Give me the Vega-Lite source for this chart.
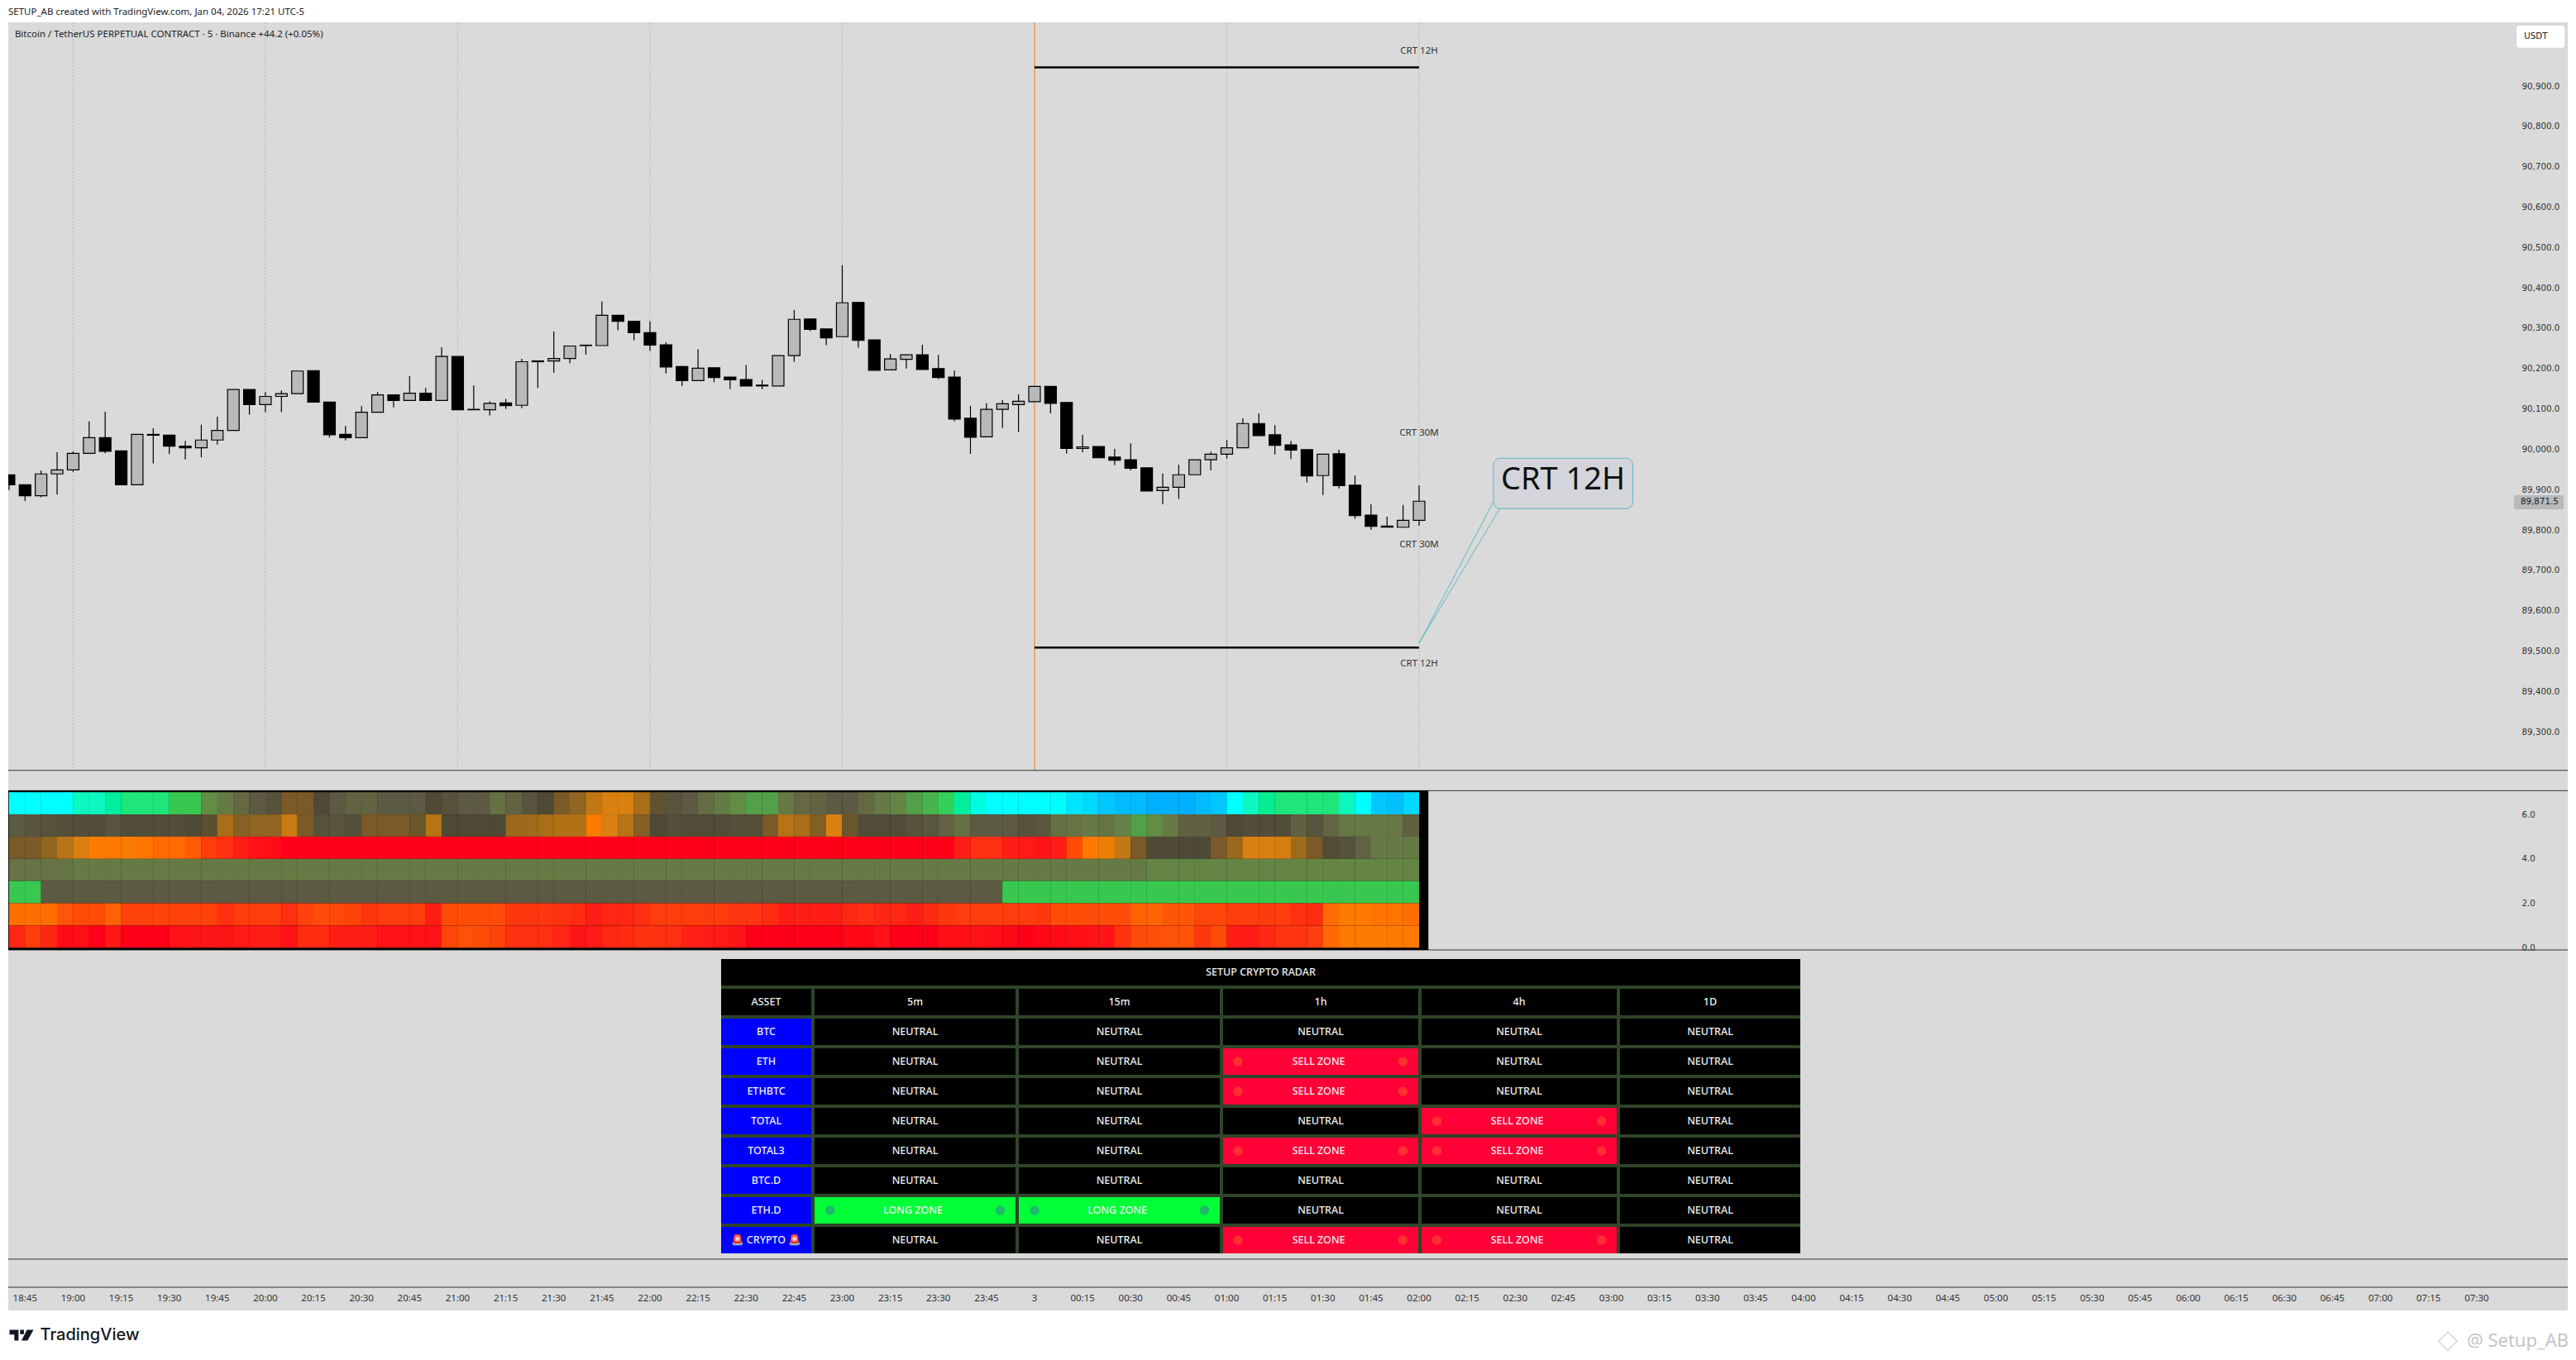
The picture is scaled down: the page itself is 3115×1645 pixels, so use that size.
{"$schema":"https://vega.github.io/schema/vega-lite/v6.json","width":3115,"height":1645,"autosize":{"type":"none"},"padding":0,"background":"#ffffff","config":{"view":{"stroke":null},"axisX":{"disable":true}},
"datasets":{
"candles":[
{"time":"2026-01-02T18:40","open":89937,"high":89937,"low":89899,"close":89912},{"time":"2026-01-02T18:45","open":89912,"high":89912,"low":89872,"close":89885},{"time":"2026-01-02T18:50","open":89885,"high":89947,"low":89881,"close":89939},{"time":"2026-01-02T18:55","open":89939,"high":89993,"low":89888,"close":89949},
{"time":"2026-01-02T19:00","open":89949,"high":89995,"low":89944,"close":89990},{"time":"2026-01-02T19:05","open":89990,"high":90069,"low":89990,"close":90029},{"time":"2026-01-02T19:10","open":90029,"high":90093,"low":89990,"close":89995},{"time":"2026-01-02T19:15","open":89996,"high":89996,"low":89912,"close":89912},{"time":"2026-01-02T19:20","open":89912,"high":90037,"low":89912,"close":90037},{"time":"2026-01-02T19:25","open":90037,"high":90052,"low":89965,"close":90035},{"time":"2026-01-02T19:30","open":90035,"high":90035,"low":89988,"close":90008},{"time":"2026-01-02T19:35","open":90008,"high":90021,"low":89975,"close":90004},{"time":"2026-01-02T19:40","open":90004,"high":90061,"low":89980,"close":90023},{"time":"2026-01-02T19:45","open":90023,"high":90081,"low":90012,"close":90047},{"time":"2026-01-02T19:50","open":90047,"high":90148,"low":90047,"close":90148},{"time":"2026-01-02T19:55","open":90148,"high":90148,"low":90086,"close":90111},
{"time":"2026-01-02T20:00","open":90111,"high":90142,"low":90092,"close":90131},{"time":"2026-01-02T20:05","open":90131,"high":90146,"low":90092,"close":90138},{"time":"2026-01-02T20:10","open":90138,"high":90194,"low":90138,"close":90194},{"time":"2026-01-02T20:15","open":90195,"high":90195,"low":90117,"close":90117},{"time":"2026-01-02T20:20","open":90117,"high":90117,"low":90029,"close":90036},{"time":"2026-01-02T20:25","open":90037,"high":90058,"low":90022,"close":90029},{"time":"2026-01-02T20:30","open":90029,"high":90107,"low":90029,"close":90092},{"time":"2026-01-02T20:35","open":90092,"high":90142,"low":90092,"close":90135},{"time":"2026-01-02T20:40","open":90135,"high":90135,"low":90104,"close":90121},{"time":"2026-01-02T20:45","open":90121,"high":90181,"low":90121,"close":90139},{"time":"2026-01-02T20:50","open":90139,"high":90152,"low":90121,"close":90121},{"time":"2026-01-02T20:55","open":90121,"high":90253,"low":90121,"close":90230},
{"time":"2026-01-02T21:00","open":90230,"high":90230,"low":90098,"close":90098},{"time":"2026-01-02T21:05","open":90099,"high":90158,"low":90098,"close":90098},{"time":"2026-01-02T21:10","open":90098,"high":90119,"low":90084,"close":90114},{"time":"2026-01-02T21:15","open":90115,"high":90125,"low":90100,"close":90108},{"time":"2026-01-02T21:20","open":90109,"high":90224,"low":90102,"close":90217},{"time":"2026-01-02T21:25","open":90219,"high":90219,"low":90152,"close":90217},{"time":"2026-01-02T21:30","open":90219,"high":90292,"low":90190,"close":90225},{"time":"2026-01-02T21:35","open":90225,"high":90256,"low":90213,"close":90256},{"time":"2026-01-02T21:40","open":90258,"high":90258,"low":90235,"close":90257},{"time":"2026-01-02T21:45","open":90257,"high":90366,"low":90257,"close":90332},{"time":"2026-01-02T21:50","open":90332,"high":90332,"low":90295,"close":90317},{"time":"2026-01-02T21:55","open":90317,"high":90317,"low":90270,"close":90289},
{"time":"2026-01-02T22:00","open":90289,"high":90317,"low":90244,"close":90258},{"time":"2026-01-02T22:05","open":90259,"high":90265,"low":90188,"close":90204},{"time":"2026-01-02T22:10","open":90205,"high":90207,"low":90157,"close":90170},{"time":"2026-01-02T22:15","open":90170,"high":90248,"low":90170,"close":90201},{"time":"2026-01-02T22:20","open":90202,"high":90202,"low":90166,"close":90178},{"time":"2026-01-02T22:25","open":90179,"high":90179,"low":90149,"close":90172},{"time":"2026-01-02T22:30","open":90173,"high":90209,"low":90157,"close":90157},{"time":"2026-01-02T22:35","open":90159,"high":90172,"low":90149,"close":90157},{"time":"2026-01-02T22:40","open":90157,"high":90232,"low":90157,"close":90232},{"time":"2026-01-02T22:45","open":90232,"high":90345,"low":90217,"close":90322},{"time":"2026-01-02T22:50","open":90323,"high":90323,"low":90293,"close":90297},{"time":"2026-01-02T22:55","open":90298,"high":90298,"low":90258,"close":90276},
{"time":"2026-01-02T23:00","open":90279,"high":90456,"low":90279,"close":90363},{"time":"2026-01-02T23:05","open":90364,"high":90364,"low":90252,"close":90270},{"time":"2026-01-02T23:10","open":90271,"high":90271,"low":90196,"close":90196},{"time":"2026-01-02T23:15","open":90197,"high":90236,"low":90197,"close":90224},{"time":"2026-01-02T23:20","open":90223,"high":90234,"low":90200,"close":90234},{"time":"2026-01-02T23:25","open":90234,"high":90259,"low":90198,"close":90198},{"time":"2026-01-02T23:30","open":90200,"high":90234,"low":90174,"close":90178},{"time":"2026-01-02T23:35","open":90179,"high":90195,"low":90069,"close":90075},{"time":"2026-01-02T23:40","open":90077,"high":90108,"low":89989,"close":90030},{"time":"2026-01-02T23:45","open":90031,"high":90114,"low":90031,"close":90099},{"time":"2026-01-02T23:50","open":90099,"high":90122,"low":90053,"close":90113},{"time":"2026-01-02T23:55","open":90111,"high":90136,"low":90043,"close":90119},
{"time":"2026-01-03T00:00","open":90118,"high":90156,"low":90118,"close":90156},{"time":"2026-01-03T00:05","open":90156,"high":90156,"low":90089,"close":90114},{"time":"2026-01-03T00:10","open":90116,"high":90116,"low":89989,"close":90002},{"time":"2026-01-03T00:15","open":90002,"high":90036,"low":89993,"close":90006},{"time":"2026-01-03T00:20","open":90007,"high":90007,"low":89979,"close":89979},{"time":"2026-01-03T00:25","open":89981,"high":90001,"low":89961,"close":89973},{"time":"2026-01-03T00:30","open":89974,"high":90015,"low":89948,"close":89953},{"time":"2026-01-03T00:35","open":89954,"high":89954,"low":89897,"close":89897},{"time":"2026-01-03T00:40","open":89898,"high":89940,"low":89864,"close":89906},{"time":"2026-01-03T00:45","open":89906,"high":89962,"low":89877,"close":89937},{"time":"2026-01-03T00:50","open":89937,"high":89974,"low":89937,"close":89974},{"time":"2026-01-03T00:55","open":89974,"high":89994,"low":89948,"close":89988},
{"time":"2026-01-03T01:00","open":89988,"high":90023,"low":89977,"close":90004},{"time":"2026-01-03T01:05","open":90004,"high":90077,"low":90004,"close":90064},{"time":"2026-01-03T01:10","open":90064,"high":90089,"low":90034,"close":90034},{"time":"2026-01-03T01:15","open":90036,"high":90060,"low":89987,"close":90010},{"time":"2026-01-03T01:20","open":90011,"high":90021,"low":89976,"close":89998},{"time":"2026-01-03T01:25","open":89999,"high":89999,"low":89918,"close":89934},{"time":"2026-01-03T01:30","open":89935,"high":89988,"low":89887,"close":89988},{"time":"2026-01-03T01:35","open":89989,"high":89999,"low":89903,"close":89910},{"time":"2026-01-03T01:40","open":89911,"high":89935,"low":89828,"close":89836},{"time":"2026-01-03T01:45","open":89837,"high":89864,"low":89801,"close":89809},{"time":"2026-01-03T01:50","open":89810,"high":89833,"low":89807,"close":89807},{"time":"2026-01-03T01:55","open":89807,"high":89862,"low":89807,"close":89824},
{"time":"2026-01-03T02:00","open":89824,"high":89911,"low":89811,"close":89871.5}],
"heat":[
{"time":"2026-01-02T18:40","r1":15,"r2":9,"r3":7,"r4":9.8,"r5":12,"r6":3.6,"r7":1.2},{"time":"2026-01-02T18:45","r1":15,"r2":8.7,"r3":7,"r4":9.8,"r5":12,"r6":3.6,"r7":2},{"time":"2026-01-02T18:50","r1":15,"r2":8.5,"r3":6.5,"r4":9.8,"r5":9,"r6":3.6,"r7":1.2},{"time":"2026-01-02T18:55","r1":15,"r2":8.3,"r3":5.7,"r4":9.8,"r5":9,"r6":2.8,"r7":0.3},
{"time":"2026-01-02T19:00","r1":14,"r2":8.2,"r3":5,"r4":10,"r5":9,"r6":2.5,"r7":0.4},{"time":"2026-01-02T19:05","r1":14,"r2":8.2,"r3":4,"r4":10,"r5":9,"r6":2.5,"r7":0},{"time":"2026-01-02T19:10","r1":13.5,"r2":8.7,"r3":4,"r4":10,"r5":9,"r6":3.2,"r7":0.7},{"time":"2026-01-02T19:15","r1":13,"r2":8.2,"r3":4.2,"r4":10,"r5":9,"r6":2.2,"r7":0},{"time":"2026-01-02T19:20","r1":13,"r2":8.2,"r3":3.8,"r4":10,"r5":9,"r6":2.2,"r7":0},{"time":"2026-01-02T19:25","r1":13,"r2":8.2,"r3":3.5,"r4":10,"r5":9,"r6":2.2,"r7":0},{"time":"2026-01-02T19:30","r1":12,"r2":8.2,"r3":3.5,"r4":10,"r5":9,"r6":2.2,"r7":0.5},{"time":"2026-01-02T19:35","r1":12,"r2":8,"r3":3,"r4":10,"r5":9,"r6":2.2,"r7":0.6},{"time":"2026-01-02T19:40","r1":10.5,"r2":7.7,"r3":2,"r4":10,"r5":9,"r6":2.2,"r7":0.6},{"time":"2026-01-02T19:45","r1":10,"r2":6,"r3":1.5,"r4":10,"r5":9,"r6":1.5,"r7":0.6},{"time":"2026-01-02T19:50","r1":9.5,"r2":6.7,"r3":1,"r4":10,"r5":9,"r6":2,"r7":0.8},{"time":"2026-01-02T19:55","r1":9,"r2":6.5,"r3":0.5,"r4":10,"r5":9,"r6":2,"r7":1},
{"time":"2026-01-02T20:00","r1":8.5,"r2":6.5,"r3":0.3,"r4":10,"r5":9,"r6":2,"r7":1},{"time":"2026-01-02T20:05","r1":7,"r2":5.3,"r3":0,"r4":10,"r5":9,"r6":1.5,"r7":0.6},{"time":"2026-01-02T20:10","r1":7,"r2":7,"r3":0,"r4":10,"r5":9,"r6":2.2,"r7":1.4},{"time":"2026-01-02T20:15","r1":8,"r2":8.5,"r3":0,"r4":10,"r5":9,"r6":2.5,"r7":1.4},{"time":"2026-01-02T20:20","r1":9,"r2":8.7,"r3":0,"r4":10,"r5":9,"r6":2.4,"r7":1},{"time":"2026-01-02T20:25","r1":9.3,"r2":8.3,"r3":0,"r4":10,"r5":9,"r6":2.2,"r7":1},{"time":"2026-01-02T20:30","r1":9.3,"r2":7,"r3":0,"r4":10,"r5":9,"r6":1.8,"r7":1},{"time":"2026-01-02T20:35","r1":9,"r2":7,"r3":0,"r4":10,"r5":9,"r6":2,"r7":0.5},{"time":"2026-01-02T20:40","r1":9,"r2":7,"r3":0,"r4":10,"r5":9,"r6":2,"r7":0.5},{"time":"2026-01-02T20:45","r1":9,"r2":7.3,"r3":0,"r4":10,"r5":9,"r6":2,"r7":0.5},{"time":"2026-01-02T20:50","r1":8,"r2":5.7,"r3":0,"r4":10,"r5":9,"r6":1,"r7":0.5},{"time":"2026-01-02T20:55","r1":8.5,"r2":8,"r3":0,"r4":10,"r5":9,"r6":2.5,"r7":2.3},
{"time":"2026-01-02T21:00","r1":9,"r2":8,"r3":0,"r4":10,"r5":9,"r6":2.5,"r7":2.7},{"time":"2026-01-02T21:05","r1":9,"r2":8,"r3":0,"r4":10,"r5":9,"r6":2.5,"r7":2.5},{"time":"2026-01-02T21:10","r1":9.7,"r2":8,"r3":0,"r4":10,"r5":9,"r6":2.5,"r7":2.2},{"time":"2026-01-02T21:15","r1":9.3,"r2":6.3,"r3":0,"r4":10,"r5":9,"r6":1.8,"r7":1.5},{"time":"2026-01-02T21:20","r1":8.7,"r2":6.2,"r3":0,"r4":10,"r5":9,"r6":1.8,"r7":1.5},{"time":"2026-01-02T21:25","r1":8,"r2":6,"r3":0,"r4":10,"r5":9,"r6":1.8,"r7":1.5},{"time":"2026-01-02T21:30","r1":7,"r2":5.8,"r3":0,"r4":10,"r5":9,"r6":1.6,"r7":1.2},{"time":"2026-01-02T21:35","r1":6.5,"r2":5.8,"r3":0,"r4":10,"r5":9,"r6":1.4,"r7":0.6},{"time":"2026-01-02T21:40","r1":5.5,"r2":4.2,"r3":0,"r4":10,"r5":9,"r6":1,"r7":0.8},{"time":"2026-01-02T21:45","r1":5,"r2":5,"r3":0,"r4":10,"r5":9,"r6":1.2,"r7":1.2},{"time":"2026-01-02T21:50","r1":5,"r2":5.7,"r3":0,"r4":10,"r5":9,"r6":1.2,"r7":1.4},{"time":"2026-01-02T21:55","r1":6,"r2":6.8,"r3":0,"r4":10,"r5":9,"r6":1.5,"r7":1.6},
{"time":"2026-01-02T22:00","r1":7.5,"r2":8,"r3":0,"r4":10,"r5":9,"r6":2,"r7":1.5},{"time":"2026-01-02T22:05","r1":8.7,"r2":8.4,"r3":0,"r4":10,"r5":9,"r6":2,"r7":1.5},{"time":"2026-01-02T22:10","r1":9,"r2":8.2,"r3":0,"r4":10,"r5":9,"r6":2,"r7":1.1},{"time":"2026-01-02T22:15","r1":9.6,"r2":8.2,"r3":0,"r4":10,"r5":9,"r6":2,"r7":1},{"time":"2026-01-02T22:20","r1":10,"r2":8.2,"r3":0,"r4":10,"r5":9,"r6":2,"r7":0.8},{"time":"2026-01-02T22:25","r1":10.5,"r2":8.3,"r3":0,"r4":10,"r5":9,"r6":1.7,"r7":0.6},{"time":"2026-01-02T22:30","r1":11,"r2":8.3,"r3":0,"r4":10,"r5":9,"r6":1.7,"r7":0},{"time":"2026-01-02T22:35","r1":11,"r2":7,"r3":0,"r4":10,"r5":9,"r6":1.4,"r7":0},{"time":"2026-01-02T22:40","r1":10,"r2":5.7,"r3":0,"r4":10,"r5":9,"r6":1,"r7":0},{"time":"2026-01-02T22:45","r1":9.5,"r2":6,"r3":0,"r4":10,"r5":9,"r6":1,"r7":0},{"time":"2026-01-02T22:50","r1":9.3,"r2":6.8,"r3":0,"r4":10,"r5":9,"r6":1,"r7":0},{"time":"2026-01-02T22:55","r1":9,"r2":5,"r3":0,"r4":10,"r5":9,"r6":0.9,"r7":0},
{"time":"2026-01-02T23:00","r1":9,"r2":7.3,"r3":0,"r4":10,"r5":9,"r6":1.3,"r7":0.2},{"time":"2026-01-02T23:05","r1":9.5,"r2":8.2,"r3":0,"r4":10,"r5":9,"r6":1.5,"r7":0.2},{"time":"2026-01-02T23:10","r1":10,"r2":8.2,"r3":0,"r4":10,"r5":9,"r6":1.2,"r7":0.5},{"time":"2026-01-02T23:15","r1":10.3,"r2":8.2,"r3":0,"r4":10,"r5":9,"r6":1.2,"r7":0},{"time":"2026-01-02T23:20","r1":11,"r2":8.5,"r3":0,"r4":10,"r5":9,"r6":1,"r7":0},{"time":"2026-01-02T23:25","r1":11.5,"r2":8.8,"r3":0,"r4":10,"r5":9,"r6":1.3,"r7":0},{"time":"2026-01-02T23:30","r1":12.3,"r2":9.3,"r3":0,"r4":10,"r5":9,"r6":1.8,"r7":0.4},{"time":"2026-01-02T23:35","r1":13.5,"r2":9.7,"r3":1,"r4":10,"r5":9,"r6":2,"r7":0.4},{"time":"2026-01-02T23:40","r1":14.5,"r2":9,"r3":1.5,"r4":10,"r5":9,"r6":2,"r7":0.5},{"time":"2026-01-02T23:45","r1":15,"r2":9,"r3":1.5,"r4":10,"r5":9,"r6":2,"r7":0.4},{"time":"2026-01-02T23:50","r1":15,"r2":9,"r3":1,"r4":10,"r5":12,"r6":2,"r7":0.2},{"time":"2026-01-02T23:55","r1":15,"r2":8.5,"r3":0.8,"r4":10,"r5":12,"r6":2,"r7":0},
{"time":"2026-01-03T00:00","r1":15,"r2":8.8,"r3":0.5,"r4":10,"r5":12,"r6":1.8,"r7":0.2},{"time":"2026-01-03T00:05","r1":15,"r2":9.7,"r3":1,"r4":10,"r5":12,"r6":2.5,"r7":0.3},{"time":"2026-01-03T00:10","r1":15.5,"r2":9.8,"r3":2.5,"r4":10,"r5":12,"r6":2.5,"r7":0.4},{"time":"2026-01-03T00:15","r1":15.7,"r2":10,"r3":4,"r4":10,"r5":12,"r6":2.5,"r7":0.5},{"time":"2026-01-03T00:20","r1":16,"r2":9.8,"r3":4.5,"r4":10,"r5":12,"r6":2.5,"r7":0.6},{"time":"2026-01-03T00:25","r1":16.5,"r2":10.2,"r3":5.5,"r4":10,"r5":12,"r6":2.5,"r7":1.6},{"time":"2026-01-03T00:30","r1":16.5,"r2":11,"r3":7,"r4":10,"r5":12,"r6":3.3,"r7":2.5},{"time":"2026-01-03T00:35","r1":17,"r2":10.5,"r3":8,"r4":10.3,"r5":12,"r6":3.3,"r7":2.6},{"time":"2026-01-03T00:40","r1":17,"r2":10,"r3":8,"r4":10.3,"r5":12,"r6":2.8,"r7":2.7},{"time":"2026-01-03T00:45","r1":17,"r2":9.2,"r3":8,"r4":10.3,"r5":12,"r6":2.8,"r7":2.7},{"time":"2026-01-03T00:50","r1":16.5,"r2":9.2,"r3":8,"r4":10.3,"r5":12,"r6":2.3,"r7":1.8},{"time":"2026-01-03T00:55","r1":16,"r2":9,"r3":7,"r4":10.3,"r5":12,"r6":2.3,"r7":2.5},
{"time":"2026-01-03T01:00","r1":15,"r2":8,"r3":6.3,"r4":10.3,"r5":12,"r6":2,"r7":1},{"time":"2026-01-03T01:05","r1":14,"r2":8.2,"r3":5,"r4":10.3,"r5":12,"r6":2,"r7":0.9},{"time":"2026-01-03T01:10","r1":13.3,"r2":8.2,"r3":5,"r4":10.3,"r5":12,"r6":2,"r7":1.3},{"time":"2026-01-03T01:15","r1":13,"r2":8.2,"r3":5.1,"r4":10.3,"r5":12,"r6":2,"r7":1.7},{"time":"2026-01-03T01:20","r1":13,"r2":9.2,"r3":6.2,"r4":10.3,"r5":12,"r6":1.5,"r7":1.7},{"time":"2026-01-03T01:25","r1":13,"r2":8.7,"r3":7,"r4":10.3,"r5":12,"r6":1.4,"r7":2},{"time":"2026-01-03T01:30","r1":13,"r2":9.4,"r3":7.9,"r4":10.3,"r5":12,"r6":3.5,"r7":3.4},{"time":"2026-01-03T01:35","r1":14,"r2":9.9,"r3":8.5,"r4":10.3,"r5":12,"r6":4,"r7":4},{"time":"2026-01-03T01:40","r1":15,"r2":10,"r3":9.3,"r4":10.3,"r5":12,"r6":4,"r7":4},{"time":"2026-01-03T01:45","r1":16,"r2":10,"r3":10,"r4":10.3,"r5":12,"r6":3.8,"r7":4},{"time":"2026-01-03T01:50","r1":16.3,"r2":9.9,"r3":10,"r4":10.3,"r5":12,"r6":3.8,"r7":4},{"time":"2026-01-03T01:55","r1":15.7,"r2":9.2,"r3":10,"r4":10.3,"r5":12,"r6":3.6,"r7":4}],
"ticks":[{"time":"2026-01-02T18:45","label":"18:45"},{"time":"2026-01-02T19:00","label":"19:00"},{"time":"2026-01-02T19:15","label":"19:15"},{"time":"2026-01-02T19:30","label":"19:30"},{"time":"2026-01-02T19:45","label":"19:45"},{"time":"2026-01-02T20:00","label":"20:00"},{"time":"2026-01-02T20:15","label":"20:15"},{"time":"2026-01-02T20:30","label":"20:30"},{"time":"2026-01-02T20:45","label":"20:45"},{"time":"2026-01-02T21:00","label":"21:00"},{"time":"2026-01-02T21:15","label":"21:15"},{"time":"2026-01-02T21:30","label":"21:30"},{"time":"2026-01-02T21:45","label":"21:45"},{"time":"2026-01-02T22:00","label":"22:00"},{"time":"2026-01-02T22:15","label":"22:15"},{"time":"2026-01-02T22:30","label":"22:30"},{"time":"2026-01-02T22:45","label":"22:45"},{"time":"2026-01-02T23:00","label":"23:00"},{"time":"2026-01-02T23:15","label":"23:15"},{"time":"2026-01-02T23:30","label":"23:30"},{"time":"2026-01-02T23:45","label":"23:45"},{"time":"2026-01-03T00:00","label":"3"},{"time":"2026-01-03T00:15","label":"00:15"},{"time":"2026-01-03T00:30","label":"00:30"},{"time":"2026-01-03T00:45","label":"00:45"},{"time":"2026-01-03T01:00","label":"01:00"},{"time":"2026-01-03T01:15","label":"01:15"},{"time":"2026-01-03T01:30","label":"01:30"},{"time":"2026-01-03T01:45","label":"01:45"},{"time":"2026-01-03T02:00","label":"02:00"},{"time":"2026-01-03T02:15","label":"02:15"},{"time":"2026-01-03T02:30","label":"02:30"},{"time":"2026-01-03T02:45","label":"02:45"},{"time":"2026-01-03T03:00","label":"03:00"},{"time":"2026-01-03T03:15","label":"03:15"},{"time":"2026-01-03T03:30","label":"03:30"},{"time":"2026-01-03T03:45","label":"03:45"},{"time":"2026-01-03T04:00","label":"04:00"},{"time":"2026-01-03T04:15","label":"04:15"},{"time":"2026-01-03T04:30","label":"04:30"},{"time":"2026-01-03T04:45","label":"04:45"},{"time":"2026-01-03T05:00","label":"05:00"},{"time":"2026-01-03T05:15","label":"05:15"},{"time":"2026-01-03T05:30","label":"05:30"},{"time":"2026-01-03T05:45","label":"05:45"},{"time":"2026-01-03T06:00","label":"06:00"},{"time":"2026-01-03T06:15","label":"06:15"},{"time":"2026-01-03T06:30","label":"06:30"},{"time":"2026-01-03T06:45","label":"06:45"},{"time":"2026-01-03T07:00","label":"07:00"},{"time":"2026-01-03T07:15","label":"07:15"},{"time":"2026-01-03T07:30","label":"07:30"}],
"cells":[
{"row":"TITLE","c":0,"c2":6,"m":3.198,"label":"SETUP CRYPTO RADAR","kind":"NEUTRAL"},
{"row":"ASSET","c":0,"c2":1,"m":0.5,"label":"ASSET","kind":"NEUTRAL"},{"row":"ASSET","c":1,"c2":2,"m":1.5,"label":"5m","kind":"NEUTRAL"},{"row":"ASSET","c":2,"c2":3,"m":2.5,"label":"15m","kind":"NEUTRAL"},{"row":"ASSET","c":3,"c2":4,"m":3.5,"label":"1h","kind":"NEUTRAL"},{"row":"ASSET","c":4,"c2":5,"m":4.5,"label":"4h","kind":"NEUTRAL"},{"row":"ASSET","c":5,"c2":6,"m":5.5,"label":"1D","kind":"NEUTRAL"},
{"row":"BTC","c":0,"c2":1,"m":0.5,"label":"BTC","kind":"ASSET"},{"row":"BTC","c":1,"c2":2,"m":1.5,"label":"NEUTRAL","kind":"NEUTRAL"},{"row":"BTC","c":2,"c2":3,"m":2.5,"label":"NEUTRAL","kind":"NEUTRAL"},{"row":"BTC","c":3,"c2":4,"m":3.5,"label":"NEUTRAL","kind":"NEUTRAL"},{"row":"BTC","c":4,"c2":5,"m":4.5,"label":"NEUTRAL","kind":"NEUTRAL"},{"row":"BTC","c":5,"c2":6,"m":5.5,"label":"NEUTRAL","kind":"NEUTRAL"},
{"row":"ETH","c":0,"c2":1,"m":0.5,"label":"ETH","kind":"ASSET"},{"row":"ETH","c":1,"c2":2,"m":1.5,"label":"NEUTRAL","kind":"NEUTRAL"},{"row":"ETH","c":2,"c2":3,"m":2.5,"label":"NEUTRAL","kind":"NEUTRAL"},{"row":"ETH","c":3,"c2":4,"m":3.49,"label":"SELL ZONE","kind":"SELL"},{"row":"ETH","c":4,"c2":5,"m":4.5,"label":"NEUTRAL","kind":"NEUTRAL"},{"row":"ETH","c":5,"c2":6,"m":5.5,"label":"NEUTRAL","kind":"NEUTRAL"},
{"row":"ETHBTC","c":0,"c2":1,"m":0.5,"label":"ETHBTC","kind":"ASSET"},{"row":"ETHBTC","c":1,"c2":2,"m":1.5,"label":"NEUTRAL","kind":"NEUTRAL"},{"row":"ETHBTC","c":2,"c2":3,"m":2.5,"label":"NEUTRAL","kind":"NEUTRAL"},{"row":"ETHBTC","c":3,"c2":4,"m":3.49,"label":"SELL ZONE","kind":"SELL"},{"row":"ETHBTC","c":4,"c2":5,"m":4.5,"label":"NEUTRAL","kind":"NEUTRAL"},{"row":"ETHBTC","c":5,"c2":6,"m":5.5,"label":"NEUTRAL","kind":"NEUTRAL"},
{"row":"TOTAL","c":0,"c2":1,"m":0.5,"label":"TOTAL","kind":"ASSET"},{"row":"TOTAL","c":1,"c2":2,"m":1.5,"label":"NEUTRAL","kind":"NEUTRAL"},{"row":"TOTAL","c":2,"c2":3,"m":2.5,"label":"NEUTRAL","kind":"NEUTRAL"},{"row":"TOTAL","c":3,"c2":4,"m":3.5,"label":"NEUTRAL","kind":"NEUTRAL"},{"row":"TOTAL","c":4,"c2":5,"m":4.49,"label":"SELL ZONE","kind":"SELL"},{"row":"TOTAL","c":5,"c2":6,"m":5.5,"label":"NEUTRAL","kind":"NEUTRAL"},
{"row":"TOTAL3","c":0,"c2":1,"m":0.5,"label":"TOTAL3","kind":"ASSET"},{"row":"TOTAL3","c":1,"c2":2,"m":1.5,"label":"NEUTRAL","kind":"NEUTRAL"},{"row":"TOTAL3","c":2,"c2":3,"m":2.5,"label":"NEUTRAL","kind":"NEUTRAL"},{"row":"TOTAL3","c":3,"c2":4,"m":3.49,"label":"SELL ZONE","kind":"SELL"},{"row":"TOTAL3","c":4,"c2":5,"m":4.49,"label":"SELL ZONE","kind":"SELL"},{"row":"TOTAL3","c":5,"c2":6,"m":5.5,"label":"NEUTRAL","kind":"NEUTRAL"},
{"row":"BTC.D","c":0,"c2":1,"m":0.5,"label":"BTC.D","kind":"ASSET"},{"row":"BTC.D","c":1,"c2":2,"m":1.5,"label":"NEUTRAL","kind":"NEUTRAL"},{"row":"BTC.D","c":2,"c2":3,"m":2.5,"label":"NEUTRAL","kind":"NEUTRAL"},{"row":"BTC.D","c":3,"c2":4,"m":3.5,"label":"NEUTRAL","kind":"NEUTRAL"},{"row":"BTC.D","c":4,"c2":5,"m":4.5,"label":"NEUTRAL","kind":"NEUTRAL"},{"row":"BTC.D","c":5,"c2":6,"m":5.5,"label":"NEUTRAL","kind":"NEUTRAL"},
{"row":"ETH.D","c":0,"c2":1,"m":0.5,"label":"ETH.D","kind":"ASSET"},{"row":"ETH.D","c":1,"c2":2,"m":1.49,"label":"LONG ZONE","kind":"LONG"},{"row":"ETH.D","c":2,"c2":3,"m":2.49,"label":"LONG ZONE","kind":"LONG"},{"row":"ETH.D","c":3,"c2":4,"m":3.5,"label":"NEUTRAL","kind":"NEUTRAL"},{"row":"ETH.D","c":4,"c2":5,"m":4.5,"label":"NEUTRAL","kind":"NEUTRAL"},{"row":"ETH.D","c":5,"c2":6,"m":5.5,"label":"NEUTRAL","kind":"NEUTRAL"},
{"row":"CRYPTO","c":0,"c2":1,"m":0.5,"label":"🚨 CRYPTO 🚨","kind":"ASSET"},{"row":"CRYPTO","c":1,"c2":2,"m":1.5,"label":"NEUTRAL","kind":"NEUTRAL"},{"row":"CRYPTO","c":2,"c2":3,"m":2.5,"label":"NEUTRAL","kind":"NEUTRAL"},{"row":"CRYPTO","c":3,"c2":4,"m":3.49,"label":"SELL ZONE","kind":"SELL"},{"row":"CRYPTO","c":4,"c2":5,"m":4.49,"label":"SELL ZONE","kind":"SELL"},{"row":"CRYPTO","c":5,"c2":6,"m":5.5,"label":"NEUTRAL","kind":"NEUTRAL"}],
"dots":[
{"row":"ETH","pos":3.083,"kind":"SELLDOT"},{"row":"ETH","pos":3.914,"kind":"SELLDOT"},{"row":"ETHBTC","pos":3.083,"kind":"SELLDOT"},{"row":"ETHBTC","pos":3.914,"kind":"SELLDOT"},{"row":"TOTAL","pos":4.085,"kind":"SELLDOT"},{"row":"TOTAL","pos":4.915,"kind":"SELLDOT"},{"row":"TOTAL3","pos":3.083,"kind":"SELLDOT"},{"row":"TOTAL3","pos":3.914,"kind":"SELLDOT"},{"row":"TOTAL3","pos":4.085,"kind":"SELLDOT"},{"row":"TOTAL3","pos":4.915,"kind":"SELLDOT"},{"row":"CRYPTO","pos":3.083,"kind":"SELLDOT"},{"row":"CRYPTO","pos":3.914,"kind":"SELLDOT"},{"row":"CRYPTO","pos":4.085,"kind":"SELLDOT"},{"row":"CRYPTO","pos":4.915,"kind":"SELLDOT"},{"row":"ETH.D","pos":1.084,"kind":"LONGDOT"},{"row":"ETH.D","pos":1.917,"kind":"LONGDOT"},{"row":"ETH.D","pos":2.085,"kind":"LONGDOT"},{"row":"ETH.D","pos":2.917,"kind":"LONGDOT"}]
},
"layer":[
{"layer":[
{"data":{"values":[{"start":"2026-01-02T18:39:46","end":"2026-01-03T07:58:30","top":91057.7,"bottom":87867}]},"mark":{"type":"rect","fill":"#dadada"},
"encoding":{
"x":{"field":"start","type":"temporal","scale":{"domain":[{"year":2026,"month":1,"date":2,"hours":18,"minutes":37,"seconds":11},{"year":2026,"month":1,"date":3,"hours":8,"minutes":1,"seconds":0}],"nice":false,"padding":0}},
"x2":{"field":"end"},
"y":{"field":"top","type":"quantitative","scale":{"domain":[89000,91000],"range":[1031.8,55.17],"nice":false,"zero":false},
"axis":{"orient":"right","offset":-67,"title":null,"ticks":false,"domain":false,"grid":false,"values":[89300,89400,89500,89600,89700,89800,89900,90000,90100,90200,90300,90400,90500,90600,90700,90800,90900],"format":",.1f","labelPadding":1,"labelFont":"DejaVu Sans","labelFontSize":10.3,"labelColor":"#333333","zindex":1}},
"y2":{"field":"bottom"}}},
{"data":{"values":[{"time":"2026-01-02T19:00","top":91057.7,"bottom":89204.7},{"time":"2026-01-02T20:00","top":91057.7,"bottom":89204.7},{"time":"2026-01-02T21:00","top":91057.7,"bottom":89204.7},{"time":"2026-01-02T22:00","top":91057.7,"bottom":89204.7},{"time":"2026-01-02T23:00","top":91057.7,"bottom":89204.7},{"time":"2026-01-03T01:00","top":91057.7,"bottom":89204.7},{"time":"2026-01-03T02:00","top":91057.7,"bottom":89204.7}]},"mark":{"type":"rule","color":"#b4b6b8","strokeWidth":1,"strokeDash":[2,2]},
"encoding":{"x":{"field":"time","type":"temporal"},"y":{"field":"top","type":"quantitative"},"y2":{"field":"bottom"}}},
{"data":{"values":[{"time":"2026-01-03T00:00","top":91057.7,"bottom":89204.7}]},"mark":{"type":"rule","color":"#f57c00","strokeWidth":1},
"encoding":{"x":{"field":"time","type":"temporal"},"y":{"field":"top","type":"quantitative"},"y2":{"field":"bottom"}}},
{"data":{"values":[{"level":89204.7,"start":"2026-01-02T18:39:46","end":"2026-01-03T07:58:30"},{"level":89154.5,"start":"2026-01-02T18:39:46","end":"2026-01-03T07:58:30"},{"level":88760,"start":"2026-01-02T18:39:46","end":"2026-01-03T07:58:30"},{"level":87994.1,"start":"2026-01-02T18:39:46","end":"2026-01-03T07:58:30"},{"level":87924.5,"start":"2026-01-02T18:39:46","end":"2026-01-03T07:58:30"}]},"mark":{"type":"rule","color":"#333333","strokeWidth":1},
"encoding":{"x":{"field":"start","type":"temporal"},"x2":{"field":"end"},"y":{"field":"level","type":"quantitative"}}},
{"data":{"name":"candles"},"mark":{"type":"rule","color":"#000000","strokeWidth":1.2},
"encoding":{"x":{"field":"time","type":"temporal"},"y":{"field":"low","type":"quantitative"},"y2":{"field":"high"}}},
{"data":{"name":"candles"},"mark":{"type":"bar","size":14,"stroke":"#000000","strokeWidth":1.2},
"encoding":{"x":{"field":"time","type":"temporal"},"y":{"field":"open","type":"quantitative"},"y2":{"field":"close"},
"fill":{"condition":{"test":"datum.close>datum.open","value":"#b7b9bb"},"value":"#000000"}}},
{"data":{"values":[{"start":"2026-01-02T18:37:11","end":"2026-01-02T18:39:46","top":91500,"bottom":87000},{"start":"2026-01-03T07:58:30","end":"2026-01-03T08:01:00","top":91500,"bottom":87000}]},"mark":{"type":"rect","fill":"#ffffff"},
"encoding":{"x":{"field":"start","type":"temporal"},"x2":{"field":"end"},"y":{"field":"top","type":"quantitative"},"y2":{"field":"bottom"}}},
{"data":{"values":[{"level":90946,"start":"2026-01-03T00:00:00","end":"2026-01-03T02:00:00"},{"level":89509,"start":"2026-01-03T00:00:00","end":"2026-01-03T02:00:00"}]},"mark":{"type":"rule","color":"#000000","strokeWidth":2.5},
"encoding":{"x":{"field":"start","type":"temporal"},"x2":{"field":"end"},"y":{"field":"level","type":"quantitative"}}},
{"data":{"values":[{"seq":1,"time":"2026-01-03T02:23:12","price":89870.5},{"seq":2,"time":"2026-01-03T02:00:00","price":89519.7},{"seq":3,"time":"2026-01-03T02:25:10","price":89852.9}]},"mark":{"type":"line","color":"#5cb7c2","strokeWidth":1},
"encoding":{"x":{"field":"time","type":"temporal"},"y":{"field":"price","type":"quantitative"},"order":{"field":"seq"}}},
{"data":{"values":[{"start":"2026-01-03T02:23:12","end":"2026-01-03T03:06:42","top":89977.8,"bottom":89852.9}]},"mark":{"type":"rect","fill":"#d3d5da","stroke":"#5cb7c2","strokeWidth":1,"cornerRadius":8},
"encoding":{"x":{"field":"start","type":"temporal"},"x2":{"field":"end"},"y":{"field":"top","type":"quantitative"},"y2":{"field":"bottom"}}},
{"data":{"values":[{"time":"2026-01-03T02:44:54","price":89923,"label":"CRT 12H"}]},"mark":{"type":"text","font":"Noto Sans","fontSize":38,"color":"#111111","align":"center","baseline":"middle"},
"encoding":{"x":{"field":"time","type":"temporal"},"y":{"field":"price","type":"quantitative"},"text":{"field":"label"}}},
{"data":{"values":[{"time":"2026-01-03T02:00:00","price":90987,"label":"CRT 12H"},{"time":"2026-01-03T02:00:00","price":90040.5,"label":"CRT 30M"},{"time":"2026-01-03T02:00:00","price":89763.4,"label":"CRT 30M"},{"time":"2026-01-03T02:00:00","price":89469.1,"label":"CRT 12H"}]},"mark":{"type":"text","font":"Noto Sans","fontSize":11.5,"color":"#333333","align":"center","baseline":"middle"},
"encoding":{"x":{"field":"time","type":"temporal"},"y":{"field":"price","type":"quantitative"},"text":{"field":"label"}}},
{"data":{"values":[{"time":"2026-01-02T18:39:46","price":91083,"label":"SETUP_AB created with TradingView.com, Jan 04, 2026 17:21 UTC-5"},{"time":"2026-01-02T18:41:48","price":91027,"label":"Bitcoin / TetherUS PERPETUAL CONTRACT · 5 · Binance  +44.2 (+0.05%)"}]},"mark":{"type":"text","font":"Noto Sans","fontSize":11.5,"color":"#222222","align":"left","baseline":"middle"},
"encoding":{"x":{"field":"time","type":"temporal"},"y":{"field":"price","type":"quantitative"},"text":{"field":"label"}}},
{"data":{"values":[{"start":"2026-01-03T07:42:30","end":"2026-01-03T07:57:27","top":91049.5,"bottom":90994.8}]},"mark":{"type":"rect","fill":"#ffffff","cornerRadius":3},
"encoding":{"x":{"field":"start","type":"temporal"},"x2":{"field":"end"},"y":{"field":"top","type":"quantitative"},"y2":{"field":"bottom"}}},
{"data":{"values":[{"start":"2026-01-03T07:41:39","end":"2026-01-03T07:57:12","top":89886.2,"bottom":89851.4}]},"mark":{"type":"rect","fill":"#b7b9bb","cornerRadius":2},
"encoding":{"x":{"field":"start","type":"temporal"},"x2":{"field":"end"},"y":{"field":"top","type":"quantitative"},"y2":{"field":"bottom"}}},
{"data":{"values":[{"time":"2026-01-03T07:44:48","price":91022.9,"label":"USDT"},{"time":"2026-01-03T07:43:42","price":89870,"label":"89,871.5"}]},"mark":{"type":"text","font":"DejaVu Sans","fontSize":10.3,"color":"#222222","align":"left","baseline":"middle"},
"encoding":{"x":{"field":"time","type":"temporal"},"y":{"field":"price","type":"quantitative"},"text":{"field":"label"}}},
{"data":{"name":"ticks"},"mark":{"type":"text","font":"Noto Sans","fontSize":11.5,"color":"#333333","align":"center","baseline":"middle"},
"encoding":{"x":{"field":"time","type":"temporal"},"y":{"datum":87895.6,"type":"quantitative"},"text":{"field":"label"}}},
{"data":{"values":[{"time":"2026-01-02T18:49:42","price":87805.5,"label":"TradingView"}]},"mark":{"type":"text","font":"Inter","fontSize":20,"fontWeight":500,"color":"#131722","align":"left","baseline":"middle"},
"encoding":{"x":{"field":"time","type":"temporal"},"y":{"field":"price","type":"quantitative"},"text":{"field":"label"}}},
{"data":{"values":[{"time":"2026-01-02T18:43:54","price":87805.5}]},"mark":{"type":"point","filled":true,"size":841,"opacity":1,"color":"#131722","shape":"M-1,-0.45 L-0.25,-0.45 L-0.25,0.45 L-0.6,0.45 L-0.6,-0.05 L-1,-0.05 Z M-0.12,-0.45 L0.2,-0.45 L0.2,-0.1 L-0.12,-0.1 Z M0.45,-0.45 L1,-0.45 L0.5,0.45 L0,0.45 Z"},
"encoding":{"x":{"field":"time","type":"temporal"},"y":{"field":"price","type":"quantitative"}}},
{"data":{"values":[{"time":"2026-01-03T07:58:42","price":87791,"label":"@ Setup_AB"}]},"mark":{"type":"text","font":"Noto Sans","fontSize":22,"color":"#c4c4c4","align":"right","baseline":"middle"},
"encoding":{"x":{"field":"time","type":"temporal"},"y":{"field":"price","type":"quantitative"},"text":{"field":"label"}}},
{"data":{"values":[{"time":"2026-01-03T07:21:00","price":87791}]},"mark":{"type":"point","shape":"diamond","size":500,"color":"#c8c8c8","strokeWidth":1.5},
"encoding":{"x":{"field":"time","type":"temporal"},"y":{"field":"price","type":"quantitative"}}}
]},
{"data":{"values":[{"start":"2026-01-02T18:39:46","end":"2026-01-03T02:02:54","low":-0.1,"high":7.08}]},"mark":{"type":"rect","fill":"#000000"},
"encoding":{
"x":{"field":"start","type":"temporal","scale":{"domain":[{"year":2026,"month":1,"date":2,"hours":18,"minutes":37,"seconds":11},{"year":2026,"month":1,"date":3,"hours":8,"minutes":1,"seconds":0}],"nice":false}},
"x2":{"field":"end"},
"y":{"field":"low","type":"quantitative","scale":{"domain":[0,7],"range":[1146.3,958.2],"nice":false},
"axis":{"orient":"right","offset":-67,"title":null,"ticks":false,"domain":false,"grid":false,"values":[0,2,4,6],"format":".1f","labelPadding":1,"labelFont":"DejaVu Sans","labelFontSize":10.3,"labelColor":"#333333","zindex":1}},
"y2":{"field":"high"}}},
{"data":{"name":"heat"},"transform":[{"fold":["r1","r2","r3","r4","r5","r6","r7"],"as":["row","level"]}],"mark":{"type":"rect","width":19.6,"xOffset":9.69},
"encoding":{
"x":{"field":"time","type":"temporal","scale":{"domain":[{"year":2026,"month":1,"date":2,"hours":18,"minutes":37,"seconds":11},{"year":2026,"month":1,"date":3,"hours":8,"minutes":1,"seconds":0}],"nice":false}},
"y":{"field":"row","type":"nominal","axis":null,"scale":{"domain":["r1","r2","r3","r4","r5","r6","r7"],"range":[958.2,1146.3],"padding":0}},
"fill":{"field":"level","type":"quantitative","legend":null,"scale":{"domain":[0,1,2,3,4,5,6,7,8,9,10,11,12,13,14,15,16,17],"range":["#ff0019","#ff1e15","#ff3c0c","#ff5a08","#ff7a00","#d98010","#a86e18","#7a5a28","#4f4a35","#5c5a42","#667a45","#52a04a","#38c850","#1fe67a","#0cf8c0","#00ffff","#00c8ff","#00b0ff"]}}}},
{"data":{"values":[{"c":0,"c2":6,"y0":0,"y1":1}]},"mark":{"type":"rect","fill":"#2f4428","xOffset":2,"x2Offset":-2,"yOffset":2,"y2Offset":-2},
"encoding":{
"x":{"field":"c","type":"quantitative","scale":{"domain":[0,1,2,3,4,5,6],"range":[870,983,1230,1477,1717,1957,2179],"nice":false,"zero":false}},
"x2":{"field":"c2"},
"y":{"field":"y0","type":"quantitative","axis":null,"scale":{"domain":[0,1],"range":[1158,1518]}},"y2":{"field":"y1"}}},
{"layer":[
{"data":{"name":"cells"},"mark":{"type":"rect","xOffset":2,"x2Offset":-2},
"encoding":{
"x":{"field":"c","type":"quantitative","scale":{"domain":[0,1,2,3,4,5,6],"range":[870,983,1230,1477,1717,1957,2179],"nice":false,"zero":false}},
"x2":{"field":"c2"},
"y":{"field":"row","type":"nominal","axis":null,"scale":{"domain":["TITLE","ASSET","BTC","ETH","ETHBTC","TOTAL","TOTAL3","BTC.D","ETH.D","CRYPTO"],"range":[1158,1518],"paddingInner":0.1111,"paddingOuter":0.0556}},
"color":{"field":"kind","type":"nominal","legend":null,"scale":{"domain":["NEUTRAL","ASSET","SELL","LONG","SELLDOT","LONGDOT"],"range":["#000000","#0000ff","#ff0037","#00ff37","#ff3030","#1dbb6c"]}}}},
{"data":{"name":"dots"},"mark":{"type":"point","filled":true,"opacity":1,"shape":"circle","size":133},
"encoding":{"x":{"field":"pos","type":"quantitative"},"y":{"field":"row","type":"nominal"},"color":{"field":"kind","type":"nominal","legend":null}}},
{"data":{"name":"cells"},"mark":{"type":"text","font":"Noto Sans","fontSize":12.5,"fontWeight":500,"color":"#eeeeee","align":"center","baseline":"middle"},
"encoding":{"x":{"field":"m","type":"quantitative"},"y":{"field":"row","type":"nominal"},"text":{"field":"label"}}}
]}
],
"resolve":{"scale":{"x":"independent","y":"independent"}}}
